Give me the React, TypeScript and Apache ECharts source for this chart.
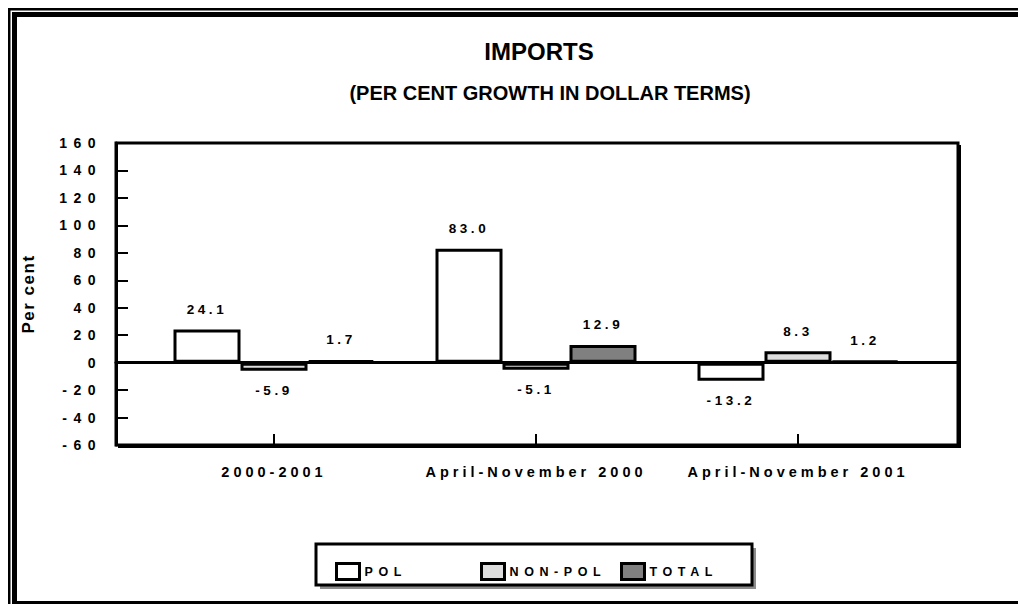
import React, { useEffect, useRef } from "react";
import * as echarts from "echarts";

const categories = ["2000-2001", "April-November 2000", "April-November 2001"];
const seriesNames = ["POL", "NON-POL", "TOTAL"];
const polValues = [24.1, 83.0, -13.2];
const nonPolValues = [-5.9, -5.1, 8.3];
const totalValues = [1.7, 12.9, 1.2];
const seriesColors = ["#ffffff", "#dddddd", "#808080"];
const yMin = -60;
const yMax = 160;
const yInterval = 20;

const W = 1018;
const H = 604;
const PLOT = { left: 116, top: 143, right: 958, bottom: 445 };
const BAR_GRID = { left: 143, right: 929 };

export default function App() {
  const ref = useRef<HTMLDivElement>(null);
  useEffect(() => {
    if (!ref.current) return;
    const chart = echarts.init(ref.current, null, { renderer: "svg" });
    const allValues = [polValues, nonPolValues, totalValues];
    const labelFont = {
      fontFamily: "Arial, Liberation Sans, sans-serif",
      fontWeight: "bold" as const,
      color: "#000",
    };
    const series = allValues.map((vals, i) => ({
      name: seriesNames[i],
      type: "bar" as const,
      xAxisIndex: 1,
      yAxisIndex: 1,
      barWidth: 67,
      barGap: "0%",
      itemStyle: { color: seriesColors[i], borderColor: "#000", borderWidth: 3 },
      label: {
        show: true,
        distance: 13,
        ...labelFont,
        fontSize: 13.5,
        formatter: (p: any) => Number(p.value).toFixed(1),
      },
      data: vals.map((v) => ({
        value: v,
        label: { position: v < 0 ? "bottom" : "top" },
      })),
      z: 3,
    }));
    const legendLefts = [330, 475, 615];
    const legends = seriesNames.map((n, i) => ({
      data: [n],
      left: legendLefts[i],
      top: 557,
      itemWidth: 23,
      itemHeight: 16,
      icon: "rect",
      itemGap: 0,
      selectedMode: false,
      itemStyle: { borderColor: "#000", borderWidth: 3 },
      textStyle: { ...labelFont, fontSize: 12.5 },
    }));
    const pw = PLOT.right - PLOT.left;
    const ph = PLOT.bottom - PLOT.top;
    chart.setOption({
      animation: false,
      backgroundColor: "#fff",
      title: [
        {
          text: "IMPORTS",
          left: 534,
          top: 34,
          textAlign: "center",
          textStyle: { fontFamily: "Arial, Liberation Sans, sans-serif", fontWeight: "bold", fontSize: 24, color: "#000" },
        },
        {
          text: "(PER CENT GROWTH IN DOLLAR TERMS)",
          left: 545,
          top: 78,
          textAlign: "center",
          textStyle: { fontFamily: "Arial, Liberation Sans, sans-serif", fontWeight: "bold", fontSize: 20, color: "#000" },
        },
      ],
      legend: legends,
      grid: [
        {
          left: PLOT.left,
          top: PLOT.top,
          width: pw,
          height: ph,
          show: true,
          borderColor: "#000",
          borderWidth: 3,
          backgroundColor: "transparent",
        },
        {
          left: BAR_GRID.left,
          top: PLOT.top,
          width: BAR_GRID.right - BAR_GRID.left,
          height: ph,
        },
      ],
      xAxis: [
        {
          type: "value",
          gridIndex: 0,
          min: 0,
          max: 1,
          axisLine: { show: true, onZero: true, lineStyle: { color: "#000", width: 3 } },
          axisTick: { show: false },
          axisLabel: { show: false },
          splitLine: { show: false },
          z: 4,
        },
        {
          type: "category",
          gridIndex: 1,
          data: categories,
          position: "bottom",
          axisLine: { show: false, onZero: false },
          axisTick: { show: true, inside: true, alignWithLabel: true, length: 11, lineStyle: { color: "#000", width: 2 } },
          axisLabel: { interval: 0, margin: 19, ...labelFont, fontSize: 14.5 },
          splitLine: { show: false },
        },
      ],
      yAxis: [
        {
          type: "value",
          gridIndex: 0,
          min: yMin,
          max: yMax,
          interval: yInterval,
          name: "Per cent",
          nameLocation: "middle",
          nameRotate: 90,
          nameGap: 79,
          nameTextStyle: { ...labelFont, fontSize: 17 },
          axisLine: { show: true, lineStyle: { color: "#000", width: 3 } },
          axisTick: { show: true, inside: true, length: 12, lineStyle: { color: "#000", width: 2 } },
          axisLabel: { margin: 14, ...labelFont, fontSize: 14 },
          splitLine: { show: false },
        },
        {
          type: "value",
          gridIndex: 1,
          min: yMin,
          max: yMax,
          interval: yInterval,
          show: false,
          splitLine: { show: false },
        },
      ],
      series,
      graphic: [
        { type: "rect", shape: { x: 8, y: 8, width: 2.5, height: H - 8 }, style: { fill: "#000" } },
        { type: "rect", shape: { x: 8, y: 8, width: W - 8, height: 2.5 }, style: { fill: "#000" } },
        { type: "rect", shape: { x: 12, y: 12, width: 5, height: H - 12 }, style: { fill: "#000" } },
        { type: "rect", shape: { x: 12, y: 12, width: W - 12, height: 5 }, style: { fill: "#000" } },
        { type: "rect", shape: { x: 12, y: 601, width: W - 12, height: 3 }, style: { fill: "#000" } },
        { type: "rect", shape: { x: PLOT.right + 1, y: PLOT.top + 2, width: 2, height: ph + 1 }, style: { fill: "#000" } },
        { type: "rect", shape: { x: PLOT.left + 2, y: PLOT.bottom + 1, width: pw + 1, height: 2 }, style: { fill: "#000" } },
        { type: "rect", z: -1, shape: { x: 320, y: 548, width: 436, height: 41 }, style: { fill: "#8c8c8c" } },
        { type: "rect", z: -1, shape: { x: 316, y: 544, width: 436, height: 41 }, style: { fill: "#fff", stroke: "#000", lineWidth: 3 } },
      ],
    });
    return () => chart.dispose();
  }, []);
  return (
    <>
      <style>{`
        body { margin: 0; }
        #chartbox text[style*="14px"] { letter-spacing: 6.5px; }
        #chartbox text[style*="14.5px"] { letter-spacing: 4px; }
        #chartbox text[style*="13.5px"] { letter-spacing: 3.6px; }
        #chartbox text[style*="12.5px"] { letter-spacing: 5.6px; }
        #chartbox text[style*="17px"] { letter-spacing: 1.5px; }
      `}</style>
      <div id="chartbox" ref={ref} style={{ position: "absolute", left: 0, top: 0, width: W, height: H }} />
    </>
  );
}
